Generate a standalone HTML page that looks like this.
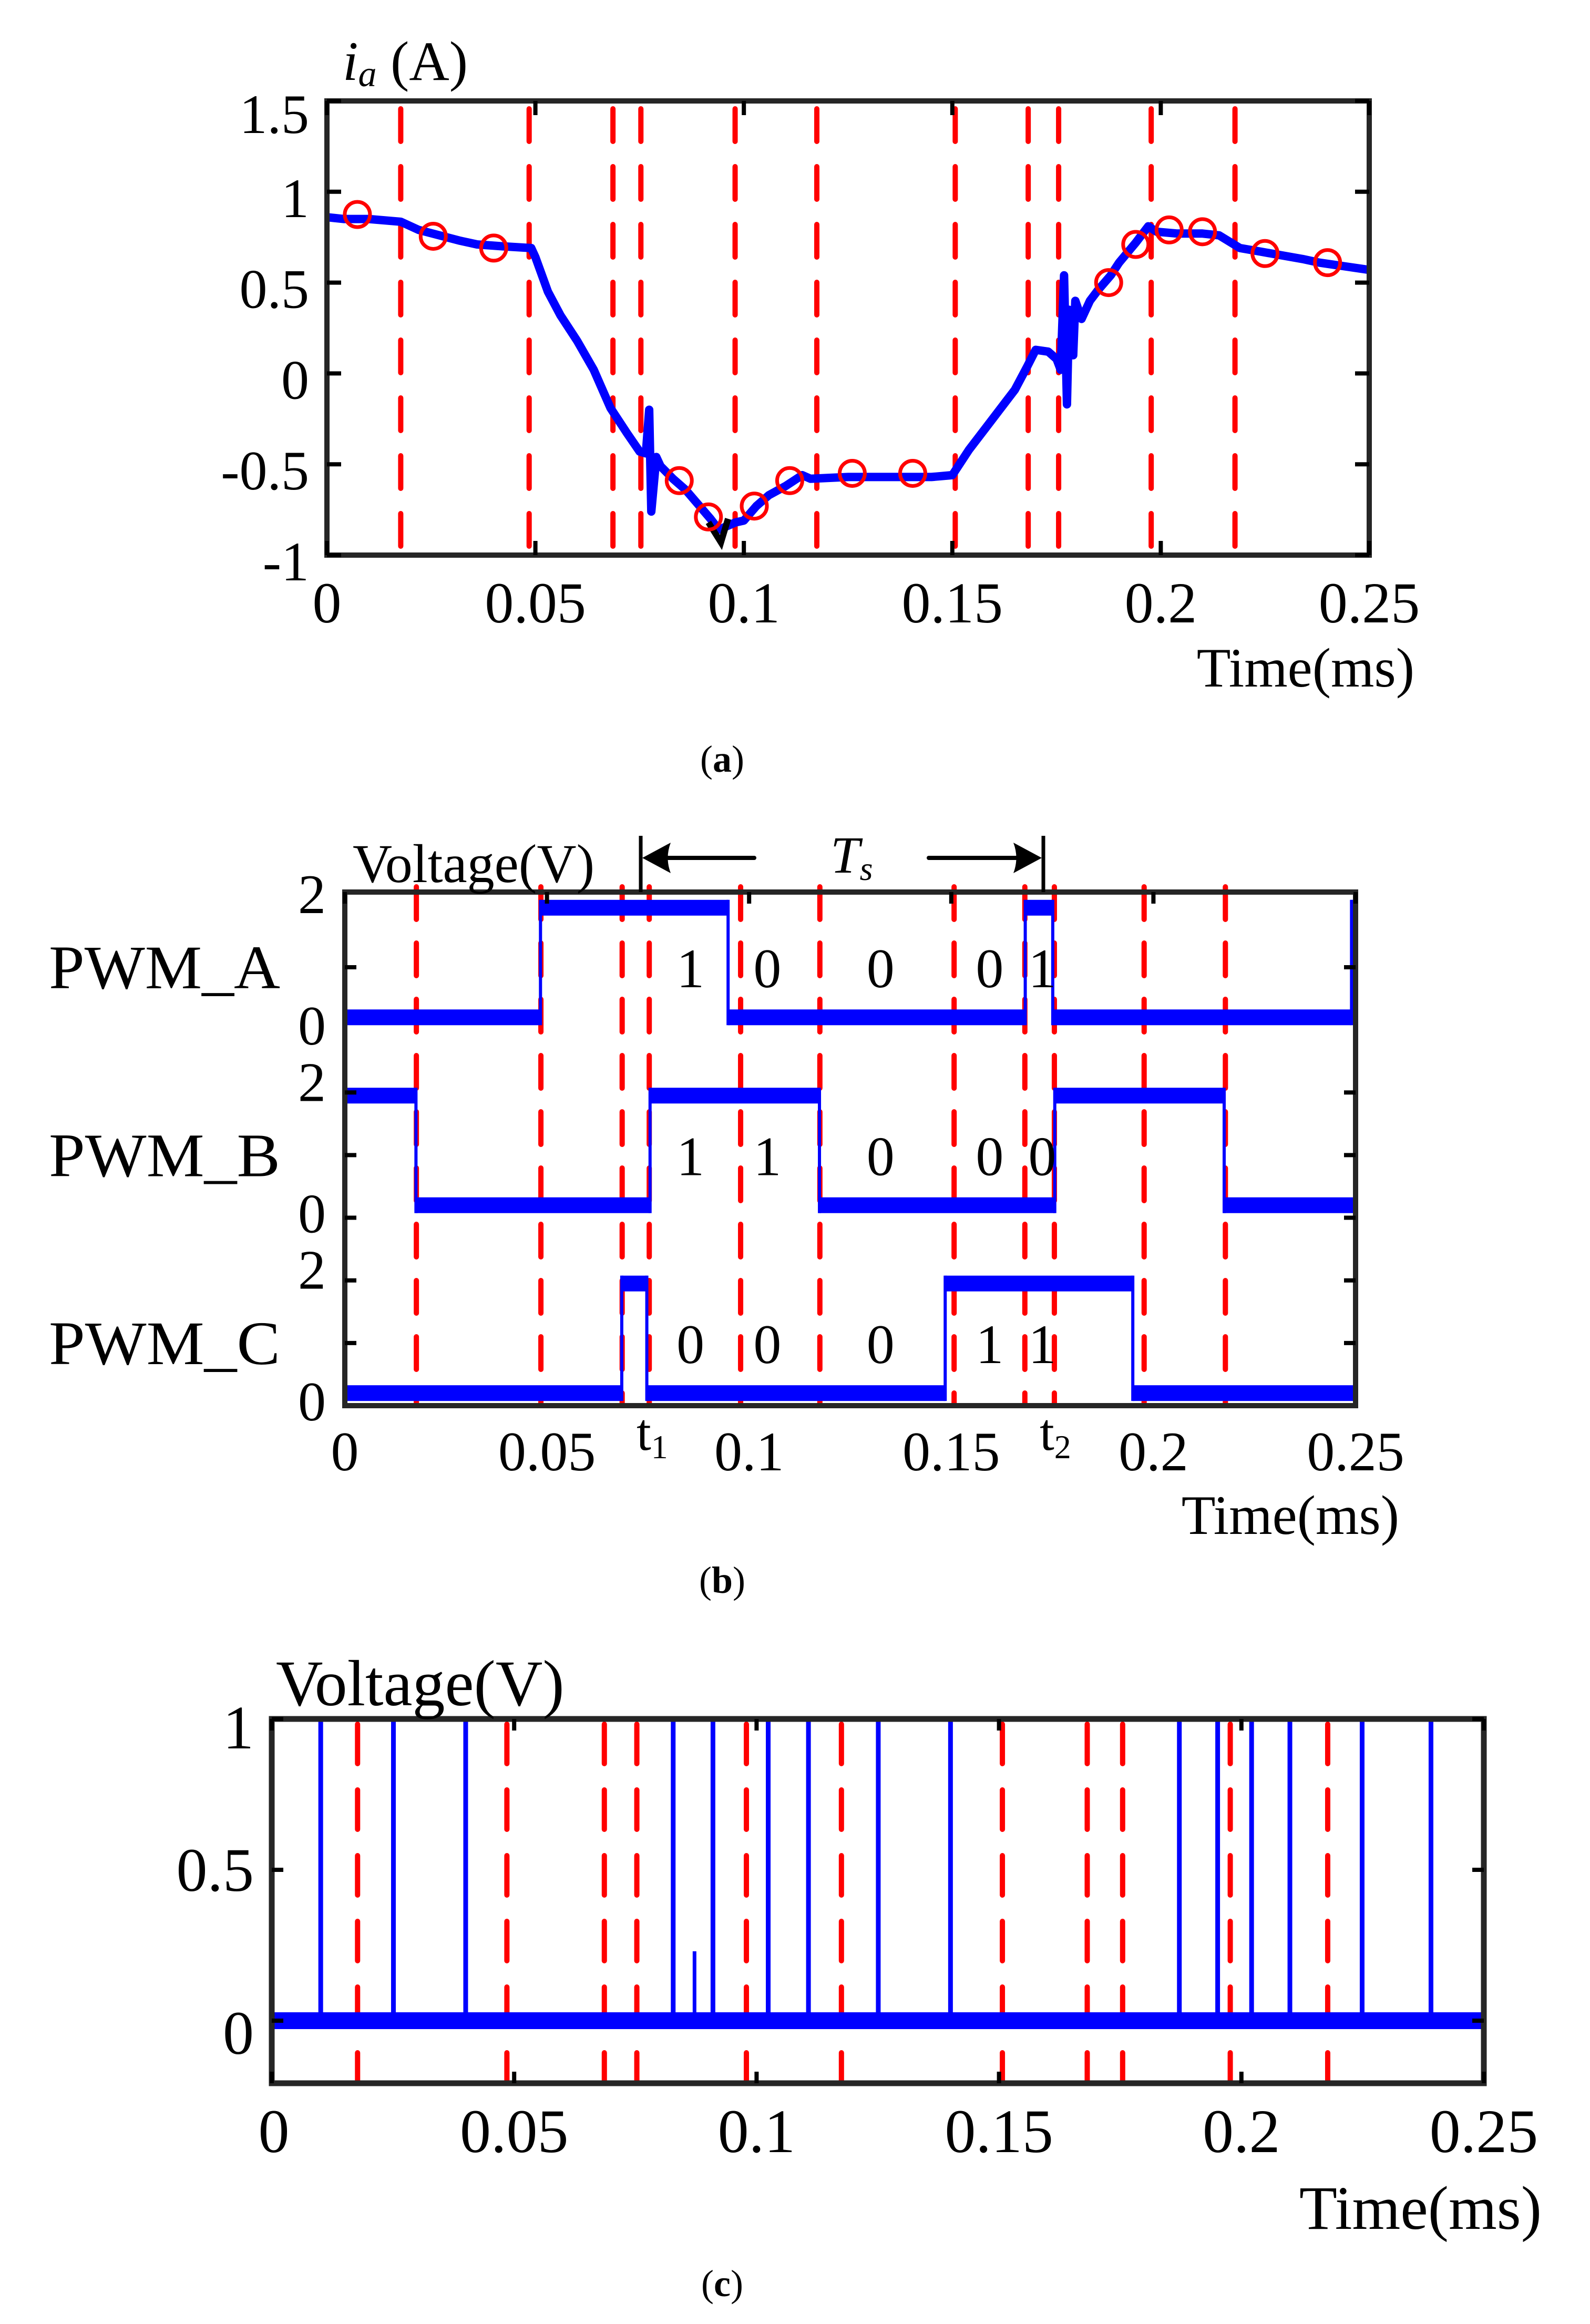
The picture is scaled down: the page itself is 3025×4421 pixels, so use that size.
<!DOCTYPE html>
<html><head><meta charset="utf-8"><title>PWM current and voltage waveforms</title>
<style>html,body{margin:0;padding:0;background:#fff}svg{display:block}text{font-family:"Liberation Serif",serif;fill:#000}</style>
</head><body>
<svg id="fig" xmlns="http://www.w3.org/2000/svg" width="3025" height="4421" viewBox="0 0 3025 4421">
<rect width="3025" height="4421" fill="#fff"/>
<g id="ga"></g>
<g id="gb"></g>
<g id="gc"></g>
</svg>
<script>
// shared sector boundary times (ms)
const dashTimes = [0.0177,0.0485,0.0686,0.0753,0.0979,0.1175,0.1507,0.1682,0.1755,0.1977,0.2178];
const xTicks = [0,0.05,0.1,0.15,0.2,0.25];
const xTickLabels = ["0","0.05","0.1","0.15","0.2","0.25"];
// chart a
const currentT = [0,0.004,0.010,0.0177,0.022,0.027,0.032,0.036,0.042,0.049,0.050,0.053,0.056,0.060,0.064,0.068,0.072,0.075,0.0765,0.0773,0.0778,0.079,0.080,0.083,0.086,0.089,0.092,0.094,0.096,0.098,0.100,0.103,0.106,0.110,0.114,0.116,0.125,0.135,0.145,0.150,0.154,0.158,0.162,0.165,0.168,0.170,0.173,0.175,0.176,0.1768,0.1775,0.178,0.179,0.1795,0.181,0.183,0.185,0.188,0.190,0.194,0.197,0.199,0.204,0.210,0.214,0.219,0.224,0.229,0.234,0.238,0.244,0.250];
const currentV = [0.86,0.85,0.85,0.835,0.79,0.76,0.73,0.71,0.70,0.69,0.64,0.45,0.32,0.18,0.02,-0.19,-0.33,-0.43,-0.44,-0.20,-0.76,-0.46,-0.51,-0.58,-0.64,-0.72,-0.80,-0.86,-0.84,-0.82,-0.81,-0.73,-0.67,-0.62,-0.56,-0.58,-0.57,-0.57,-0.57,-0.56,-0.42,-0.30,-0.18,-0.09,0.04,0.13,0.12,0.08,0.02,0.54,-0.17,0.35,0.10,0.40,0.30,0.40,0.46,0.54,0.61,0.72,0.81,0.78,0.77,0.77,0.76,0.69,0.67,0.65,0.63,0.61,0.59,0.57];
const circleT = [0.0073,0.0255,0.040,0.0845,0.0915,0.1025,0.111,0.126,0.1405,0.1875,0.194,0.202,0.210,0.225,0.240];
const circleV = [0.875,0.755,0.69,-0.59,-0.79,-0.73,-0.59,-0.55,-0.55,0.50,0.71,0.79,0.78,0.66,0.61];
const blackT = [0.0915,0.0945,0.0962];
const blackV = [-0.82,-0.93,-0.80];
const yTicksA = [1.5,1,0.5,0,-0.5,-1];
const yTickLabelsA = ["1.5","1","0.5","0","-0.5","-1"];
// chart b (levels in V, row offsets on a shared axis)
const pwmLow = 0.2, pwmHigh = 1.95;
const pwmAStart = 0, pwmAEdges = [0.0484,0.0948,0.1683,0.1751,0.2490];
const pwmBStart = 1, pwmBEdges = [0.0176,0.0755,0.1174,0.1756,0.2175];
const pwmCStart = 0, pwmCEdges = [0.0685,0.0747,0.1485,0.1949];
const rowOffsets = [6,3,0];
const rowNames = ["PWM_A","PWM_B","PWM_C"];
const bitsA = ["1","0","0","0","1"], bitsB = ["1","1","0","0","0"], bitsC = ["0","0","0","1","1"];
const bitT = [0.0855,0.1045,0.1325,0.1595,0.1725];
// chart c
const spikeT = [0.0101,0.0251,0.0400,0.0828,0.0910,0.1024,0.1107,0.1251,0.1400,0.1872,0.1951,0.2021,0.2100,0.2249,0.2391];
const spikeV = [1,1,1,1,1,1,1,1,1,1,1,1,1,1,1];
const smallSpikeT = [0.0872];
const smallSpikeV = [0.23];
const yTicksC = [1,0.5,0];
const yTickLabelsC = ["1","0.5","0"];

const NS = "http://www.w3.org/2000/svg";
function mk(parent, tag, attrs, txt){
  const e = document.createElementNS(NS, tag);
  for (const k in attrs) e.setAttribute(k, attrs[k]);
  if (txt !== undefined) e.textContent = txt;
  parent.appendChild(e); return e;
}
const FRAME = "#262626";

// ===== Chart A =====
const ga = document.getElementById('ga');
const aL=622,aR=2605,aT=192,aB=1056;
const xA = t => aL + t/0.25*(aR-aL);
const yA = v => aT + (1.5-v)/2.5*(aB-aT);
dashTimes.forEach(t=>{
  const l = mk(ga,'line',{x1:xA(t),x2:xA(t),y1:aT+15,y2:aB-4,stroke:'#f00','stroke-width':10,'stroke-dasharray':'62 48','stroke-linecap':'round'});
  
  
});
{
  let d = currentT.map((t,i)=>(i?'L':'M')+xA(t).toFixed(1)+' '+yA(currentV[i]).toFixed(1)).join(' ');
  const p = mk(ga,'path',{d:d,fill:'none',stroke:'#00f','stroke-width':16,'stroke-linejoin':'round'});
  
  
  let d2 = blackT.map((t,i)=>(i?'L':'M')+xA(t).toFixed(1)+' '+yA(blackV[i]).toFixed(1)).join(' ');
  const pb = mk(ga,'path',{d:d2,fill:'none',stroke:'#000','stroke-width':12});
  
  
}
circleT.forEach((t,i)=>{
  const c = mk(ga,'circle',{cx:xA(t),cy:yA(circleV[i]),r:24,fill:'none',stroke:'#f00','stroke-width':7});
  
  
});
{
  const f = mk(ga,'rect',{x:aL,y:aT,width:aR-aL,height:aB-aT,fill:'none',stroke:FRAME,'stroke-width':10});
  
  
}
yTicksA.forEach((v,i)=>{
  mk(ga,'line',{x1:aL,x2:aL+27,y1:yA(v),y2:yA(v),stroke:'#000','stroke-width':8});
  mk(ga,'line',{x1:aR-27,x2:aR,y1:yA(v),y2:yA(v),stroke:'#000','stroke-width':8});
  const tx = mk(ga,'text',{x:588,y:yA(v)+(i===0?25:12)+36,'font-size':106,'text-anchor':'end'},yTickLabelsA[i]);
  
  
});
xTicks.forEach((t,i)=>{
  mk(ga,'line',{x1:xA(t),x2:xA(t),y1:aT,y2:aT+27,stroke:'#000','stroke-width':8});
  mk(ga,'line',{x1:xA(t),x2:xA(t),y1:aB-27,y2:aB,stroke:'#000','stroke-width':8});
  const tx = mk(ga,'text',{x:xA(t),y:1184,'font-size':110,'text-anchor':'middle'},xTickLabels[i]);
  
  
});
{
  const yt = mk(ga,'text',{x:652,y:152,'font-size':106});
  
  
  mk(yt,'tspan',{'font-style':'italic'},'i');
  mk(yt,'tspan',{'font-style':'italic','font-size':70,dy:12},'a');
  mk(yt,'tspan',{dy:-12},' (A)');
  const xt = mk(ga,'text',{x:2691,y:1306,'font-size':106,'text-anchor':'end'},'Time(ms)');
  
  
  const cap = mk(ga,'text',{x:1374,y:1468,'font-size':72,'text-anchor':'middle'});
  
  
  mk(cap,'tspan',{},'(');mk(cap,'tspan',{'font-weight':'bold'},'a');mk(cap,'tspan',{},')');
}

// ===== Chart B =====
const gb = document.getElementById('gb');
const bL=656,bR=2579,bT=1697,bB=2674,bMax=8.2;
const xB = t => bL + t/0.25*(bR-bL);
const yB = u => bB - u/bMax*(bB-bT);
dashTimes.forEach(t=>{
  const l = mk(gb,'line',{x1:xB(t),x2:xB(t),y1:bT-10,y2:bB-4,stroke:'#f00','stroke-width':10,'stroke-dasharray':'62 45','stroke-linecap':'round'});
  
  
});
function drawPwm(edges, start, off, name){
  const ts = [0].concat(edges).concat([0.25]);
  let s = start;
  for (let i=0;i<ts.length-1;i++){
    const v = (s?pwmHigh:pwmLow)+off;
    const r = mk(gb,'rect',{x:xB(ts[i]),y:yB(v)-15,width:xB(ts[i+1])-xB(ts[i]),height:30,fill:'#00f'});
    
    
    if (i<ts.length-2){
      const l = mk(gb,'line',{x1:xB(ts[i+1]),x2:xB(ts[i+1]),y1:yB(pwmLow+off)+15,y2:yB(pwmHigh+off)-15,stroke:'#00f','stroke-width':6});
      
      
    }
    s = 1-s;
  }
}
drawPwm(pwmAEdges,pwmAStart,rowOffsets[0],'pwm-a');
drawPwm(pwmBEdges,pwmBStart,rowOffsets[1],'pwm-b');
drawPwm(pwmCEdges,pwmCStart,rowOffsets[2],'pwm-c');
{
  // final rise of A at right edge
  const l = mk(gb,'line',{x1:bR-6,x2:bR-6,y1:yB(pwmLow+6),y2:yB(pwmHigh+6),stroke:'#00f','stroke-width':6});
  
  
  const f = mk(gb,'rect',{x:bL,y:bT,width:bR-bL,height:bB-bT,fill:'none',stroke:FRAME,'stroke-width':10});
  
  
}
[1,2,3,4,5,7].forEach(u=>{
  mk(gb,'line',{x1:bL,x2:bL+22,y1:yB(u),y2:yB(u),stroke:'#000','stroke-width':8});
  mk(gb,'line',{x1:bR-22,x2:bR,y1:yB(u),y2:yB(u),stroke:'#000','stroke-width':8});
});
rowOffsets.forEach((off,i)=>{
  [0,2].forEach(v=>{
    const tx = mk(gb,'text',{x:620,y:yB(off+v)+(v===0?-10:-22)+38,'font-size':106,'text-anchor':'end'},String(v));
    
    
  });
  const rn = mk(gb,'text',{x:93,y:yB(off+1)+40,'font-size':118,textLength:440,lengthAdjust:'spacingAndGlyphs'},rowNames[i]);
  
  
});
[[bitsA,6],[bitsB,3],[bitsC,0]].forEach(([bits,off])=>{
  bits.forEach((b,i)=>{
    const tx = mk(gb,'text',{x:xB(bitT[i]),y:yB(off+1)+38,'font-size':106,'text-anchor':'middle'},b);
    
    
  });
});
xTicks.forEach((t,i)=>{
  mk(gb,'line',{x1:xB(t),x2:xB(t),y1:bT,y2:bT+22,stroke:'#000','stroke-width':8});
  const tx = mk(gb,'text',{x:xB(t),y:2797,'font-size':106,'text-anchor':'middle'},xTickLabels[i]);
  
  
});
[['t','1',1231],['t','2',1998]].forEach(([a,s,x],i)=>{
  const tx = mk(gb,'text',{x:x-20,y:2758,'font-size':100});
  
  
  mk(tx,'tspan',{},a); mk(tx,'tspan',{'font-size':64,dy:16},s);
});
{
  const vt = mk(gb,'text',{x:671,y:1678,'font-size':104},'Voltage(V)');
  
  
  const ts = mk(gb,'g',{});
  
  
  mk(ts,'line',{x1:1219,x2:1219,y1:1590,y2:1697,stroke:'#000','stroke-width':7});
  mk(ts,'line',{x1:1985,x2:1985,y1:1590,y2:1697,stroke:'#000','stroke-width':7});
  mk(ts,'line',{x1:1260,x2:1435,y1:1632,y2:1632,stroke:'#000','stroke-width':8,'stroke-linecap':'round'});
  mk(ts,'line',{x1:1767,x2:1945,y1:1632,y2:1632,stroke:'#000','stroke-width':8,'stroke-linecap':'round'});
  mk(ts,'path',{d:'M1222 1632 L1276 1603 Q1265 1632 1276 1661 Z',fill:'#000'});
  mk(ts,'path',{d:'M1982 1632 L1928 1603 Q1939 1632 1928 1661 Z',fill:'#000'});
  const tt = mk(ts,'text',{x:1580,y:1660,'font-size':100,'font-style':'italic'});
  mk(tt,'tspan',{},'T'); mk(tt,'tspan',{'font-size':64,dy:14},'s');
  const xt = mk(gb,'text',{x:2662,y:2918,'font-size':106,'text-anchor':'end'},'Time(ms)');
  
  
  const cap = mk(gb,'text',{x:1374,y:3030,'font-size':72,'text-anchor':'middle'});
  
  
  mk(cap,'tspan',{},'(');mk(cap,'tspan',{'font-weight':'bold'},'b');mk(cap,'tspan',{},')');
}

// ===== Chart C =====
const gc = document.getElementById('gc');
const cL=517,cR=2823,cT=3270,cB=3963;
const xC = t => cL + t/0.25*(cR-cL);
const yC = v => 3844 - v*(3844-cT);
dashTimes.forEach(t=>{
  const l = mk(gc,'line',{x1:xC(t),x2:xC(t),y1:cT+10,y2:cB-4,stroke:'#f00','stroke-width':10,'stroke-dasharray':'75 50','stroke-linecap':'round'});
  
  
});
{
  const band = mk(gc,'rect',{x:cL,y:yC(0)-16,width:cR-cL,height:32,fill:'#00f'});
  
  
}
spikeT.forEach((t,i)=>{
  const l = mk(gc,'line',{x1:xC(t),x2:xC(t),y1:yC(0),y2:yC(spikeV[i]),stroke:'#00f','stroke-width':9});
  
  
});
smallSpikeT.forEach((t,i)=>{
  const l = mk(gc,'line',{x1:xC(t),x2:xC(t),y1:yC(0),y2:yC(smallSpikeV[i]),stroke:'#00f','stroke-width':7});
  
  
});
{
  const f = mk(gc,'rect',{x:cL,y:cT,width:cR-cL,height:cB-cT,fill:'none',stroke:FRAME,'stroke-width':11});
  
  
}
yTicksC.forEach((v,i)=>{
  mk(gc,'line',{x1:cL,x2:cL+22,y1:yC(v),y2:yC(v),stroke:'#000','stroke-width':8});
  mk(gc,'line',{x1:cR-22,x2:cR,y1:yC(v),y2:yC(v),stroke:'#000','stroke-width':8});
  const tx = mk(gc,'text',{x:483,y:yC(v)+(i===0?16:i===2?23:0)+40,'font-size':118,'text-anchor':'end'},yTickLabelsC[i]);
  
  
});
xTicks.forEach((t,i)=>{
  mk(gc,'line',{x1:xC(t),x2:xC(t),y1:cT,y2:cT+22,stroke:'#000','stroke-width':8});
  mk(gc,'line',{x1:xC(t),x2:xC(t),y1:cB-22,y2:cB,stroke:'#000','stroke-width':8});
  const tx = mk(gc,'text',{x:xC(t)+(i===0?4:0),y:4094,'font-size':118,'text-anchor':'middle'},xTickLabels[i]);
  
  
});
{
  const vt = mk(gc,'text',{x:525,y:3244,'font-size':124},'Voltage(V)');
  
  
  const xt = mk(gc,'text',{x:2933,y:4240,'font-size':118,'text-anchor':'end'},'Time(ms)');
  
  
  const cap = mk(gc,'text',{x:1374,y:4368,'font-size':72,'text-anchor':'middle'});
  
  
  mk(cap,'tspan',{},'(');mk(cap,'tspan',{'font-weight':'bold'},'c');mk(cap,'tspan',{},')');
}
</script>
</body></html>
